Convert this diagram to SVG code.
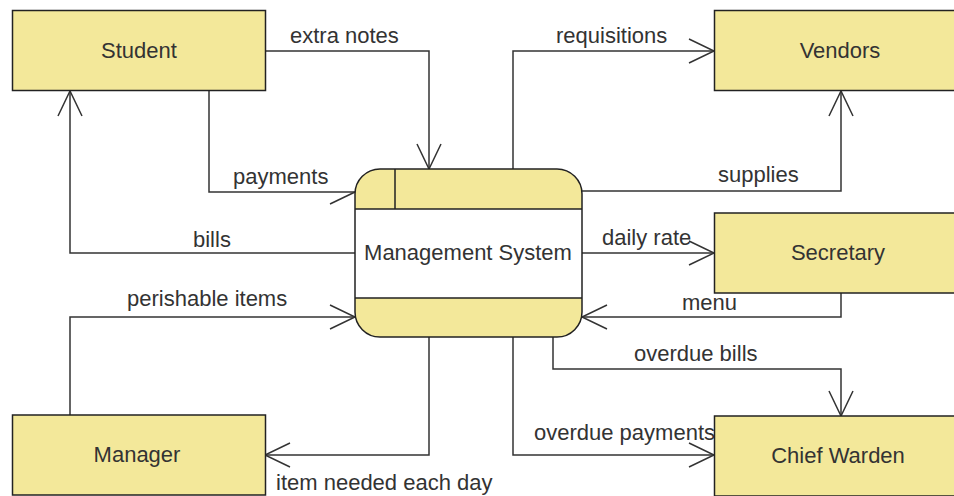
<svg xmlns="http://www.w3.org/2000/svg" width="954" height="496" viewBox="0 0 954 496">
<style>
.box{fill:#f3e89a;stroke:#222;stroke-width:1.5}
.t{font-family:"Liberation Sans",Arial,sans-serif;font-size:22px;fill:#333}
.c{text-anchor:middle}
.ln{fill:none;stroke:#333;stroke-width:1.5}
</style>
<defs>
<marker id="ah" markerUnits="userSpaceOnUse" markerWidth="30" markerHeight="30" viewBox="-28 -14 30 28" refX="0" refY="0" orient="auto" overflow="visible">
<path d="M-25,-12 L0,0 L-25,12" fill="none" stroke="#333" stroke-width="1.5"/>
</marker>
<marker id="ahh" markerUnits="userSpaceOnUse" markerWidth="30" markerHeight="30" viewBox="-28 -14 30 28" refX="0" refY="0" orient="auto" overflow="visible">
<path d="M0,0 L-25,12" fill="none" stroke="#333" stroke-width="1.5"/>
</marker>
<clipPath id="msclip"><rect x="355" y="169" width="227" height="168" rx="25" ry="25"/></clipPath>
</defs>
<rect width="954" height="496" fill="#fff"/>

<g id="connectors">
<path class="ln" d="M265,51 H429 V169" marker-end="url(#ah)"/>
<text class="t" x="290" y="43">extra notes</text>
<path class="ln" d="M209,91 V192 H355" marker-end="url(#ahh)"/>
<text class="t" x="233" y="184">payments</text>
<path class="ln" d="M355,253 H70 V91" marker-end="url(#ah)"/>
<text class="t" x="193" y="247">bills</text>
<path class="ln" d="M70,415 V317 H355" marker-end="url(#ah)"/>
<text class="t" x="127" y="306">perishable items</text>
<path class="ln" d="M429,337 V455 H265" marker-end="url(#ah)"/>
<text class="t" x="276" y="490">item needed each day</text>
<path class="ln" d="M513,169 V51 H714" marker-end="url(#ah)"/>
<text class="t" x="556" y="43">requisitions</text>
<path class="ln" d="M582,191 H841 V91" marker-end="url(#ah)"/>
<text class="t" x="718" y="182">supplies</text>
<path class="ln" d="M582,253 H714" marker-end="url(#ah)"/>
<text class="t" x="602" y="245">daily rate</text>
<path class="ln" d="M841,293 V317 H582" marker-end="url(#ah)"/>
<text class="t" x="682" y="310">menu</text>
<path class="ln" d="M553,337 V369 H841 V416" marker-end="url(#ah)"/>
<text class="t" x="634" y="361">overdue bills</text>
<path class="ln" d="M513,337 V455 H714" marker-end="url(#ah)"/>
<text class="t" x="534" y="440">overdue payments</text>
</g>

<g id="student">
<rect class="box" x="12.5" y="10.5" width="253" height="80"/>
<text class="t c" x="139" y="58">Student</text>
</g>
<g id="vendors">
<rect class="box" x="714.5" y="10.5" width="253" height="80"/>
<text class="t c" x="840" y="58">Vendors</text>
</g>
<g id="secretary">
<rect class="box" x="714.5" y="213" width="253" height="80"/>
<text class="t c" x="838" y="260">Secretary</text>
</g>
<g id="chief-warden">
<rect class="box" x="714.5" y="416" width="253" height="80"/>
<text class="t c" x="838" y="463">Chief Warden</text>
</g>
<g id="manager">
<rect class="box" x="12.5" y="415" width="253" height="80"/>
<text class="t c" x="137" y="462">Manager</text>
</g>
<g id="management-system">
<g clip-path="url(#msclip)">
<rect x="355" y="169" width="227" height="168" fill="#f3e89a"/>
<rect x="355" y="209" width="227" height="89" fill="#fff"/>
</g>
<path d="M355,209 H582 M355,298 H582 M395,169 V209" stroke="#222" stroke-width="1.5" fill="none"/>
<rect x="355" y="169" width="227" height="168" rx="25" ry="25" fill="none" stroke="#222" stroke-width="1.5"/>
<text class="t c" x="468" y="260">Management System</text>
</g>
</svg>
